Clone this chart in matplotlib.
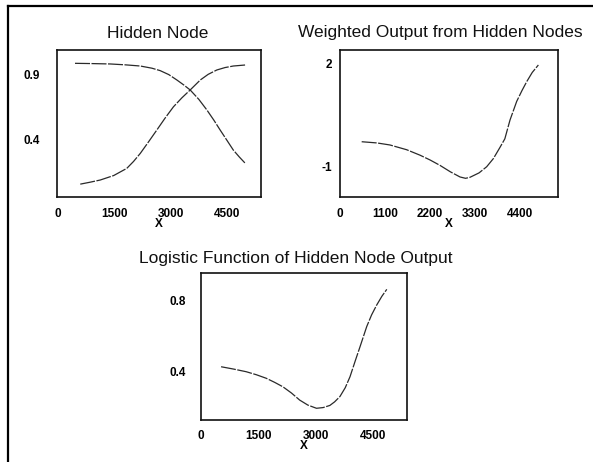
import matplotlib
matplotlib.use("Agg")
import matplotlib.pyplot as plt
from matplotlib.lines import Line2D

plt.rcParams['font.family'] = ['Liberation Sans', 'DejaVu Sans']

# Hidden node activations
h1_x = [450, 900, 1390, 1800, 2190, 2500, 2720, 2950, 3165, 3350, 3520, 3750,
        3965, 4150, 4320, 4500, 4670, 4830, 4990]
h1_y = [0.991, 0.989, 0.986, 0.979, 0.970, 0.953, 0.934, 0.903, 0.861, 0.822, 0.783,
        0.710, 0.627, 0.548, 0.470, 0.390, 0.314, 0.260, 0.210]
h2_x = [590, 850, 1120, 1480, 1830, 2010, 2190, 2410, 2630, 2850, 3075, 3300, 3520,
        3790, 4000, 4230, 4450, 4670, 4990]
h2_y = [0.048, 0.063, 0.080, 0.115, 0.171, 0.225, 0.288, 0.378, 0.470, 0.563, 0.652,
        0.722, 0.783, 0.861, 0.905, 0.939, 0.958, 0.970, 0.978]

# Weighted sum of hidden node outputs
w_x = [530, 900, 1220, 1630, 1956, 2200, 2445, 2700, 2934, 3070, 3178, 3400, 3586,
       3750, 3912, 4030, 4156, 4320, 4450, 4565, 4700, 4850]
w_y = [-0.285, -0.32, -0.38, -0.52, -0.68, -0.82, -0.98, -1.17, -1.32, -1.36, -1.33,
       -1.20, -1.02, -0.78, -0.45, -0.20, 0.35, 0.90, 1.22, 1.48, 1.75, 1.97]

# Logistic transform of the weighted output
p_x = [526, 850, 1184, 1450, 1710, 1930, 2147, 2370, 2587, 2800, 3026, 3200, 3376,
       3500, 3640, 3780, 3905, 4040, 4166, 4342, 4470, 4605, 4740, 4868]
p_y = [0.428, 0.415, 0.400, 0.383, 0.363, 0.340, 0.315, 0.280, 0.240, 0.212, 0.194,
       0.198, 0.210, 0.230, 0.260, 0.310, 0.372, 0.460, 0.540, 0.654, 0.720, 0.776,
       0.825, 0.864]

ticks1 = [0, 1500, 3000, 4500]
ticks2 = [0, 1100, 2200, 3300, 4400]
yt1 = [0.4, 0.9]
yt2 = [-1, 2]
yt3 = [0.4, 0.8]

W, H = 593, 462
fig = plt.figure(figsize=(W / 100, H / 100), dpi=100)

line_kw = dict(color='#2a2a2a', lw=0.9, linestyle=(0, (12, 1.2)))


def box(l, t, r, b):
    return [l / W, 1 - b / H, (r - l) / W, (b - t) / H]


def style(ax, xt, yt, ylabels, ypad, xpad):
    ax.set_xticks(xt)
    ax.set_xticklabels([str(v) for v in xt])
    ax.set_yticks(yt)
    ax.set_yticklabels(ylabels)
    ax.tick_params(axis='both', length=0, labelsize=8.5)
    ax.tick_params(axis='y', pad=ypad)
    ax.tick_params(axis='x', pad=xpad)
    for lab in ax.get_xticklabels() + ax.get_yticklabels():
        lab.set_fontweight('bold')
    for s in ax.spines.values():
        s.set_linewidth(1.2)
        s.set_color('#111111')
    ax.set_xlabel('X', fontsize=8.5, fontweight='bold', labelpad=-1)


ax1 = fig.add_axes(box(57, 50, 260.7, 196.7))
ax1.plot(h1_x, h1_y, **line_kw)
ax1.plot(h2_x, h2_y, **line_kw)
ax1.set_xlim(-30, 5400)
ax1.set_ylim(-0.05, 1.095)
style(ax1, ticks1, yt1, ['0.4', '0.9'], 12, 8)

ax2 = fig.add_axes(box(340, 50, 558, 196.7))
ax2.plot(w_x, w_y, **line_kw)
ax2.set_xlim(0, 5330)
ax2.set_ylim(-1.90, 2.41)
style(ax2, ticks2, yt2, ['-1', '2'], 6, 8)

ax3 = fig.add_axes(box(201, 273, 406.7, 420))
ax3.plot(p_x, p_y, **line_kw)
ax3.set_xlim(0, 5390)
ax3.set_ylim(0.128, 0.956)
style(ax3, ticks1, yt3, ['0.4', '0.8'], 11, 7)

title_kw = dict(ha='center', va='center', fontsize=12.5, color='#111111')
fig.text(158 / W, 1 - 34 / H, 'Hidden Node', **title_kw)
fig.text(440 / W, 1 - 33 / H, 'Weighted Output from Hidden Nodes', **title_kw)
fig.text(296 / W, 1 - 258 / H, 'Logistic Function of Hidden Node Output', **title_kw)

# outer frame: left and top edges
fig.add_artist(Line2D([8 / W, 8 / W], [0, 1 - 6 / H], transform=fig.transFigure, color='black', lw=1.6))
fig.add_artist(Line2D([8 / W, 1], [1 - 6 / H, 1 - 6 / H], transform=fig.transFigure, color='black', lw=1.6))

fig.savefig('out.png', dpi=100)
